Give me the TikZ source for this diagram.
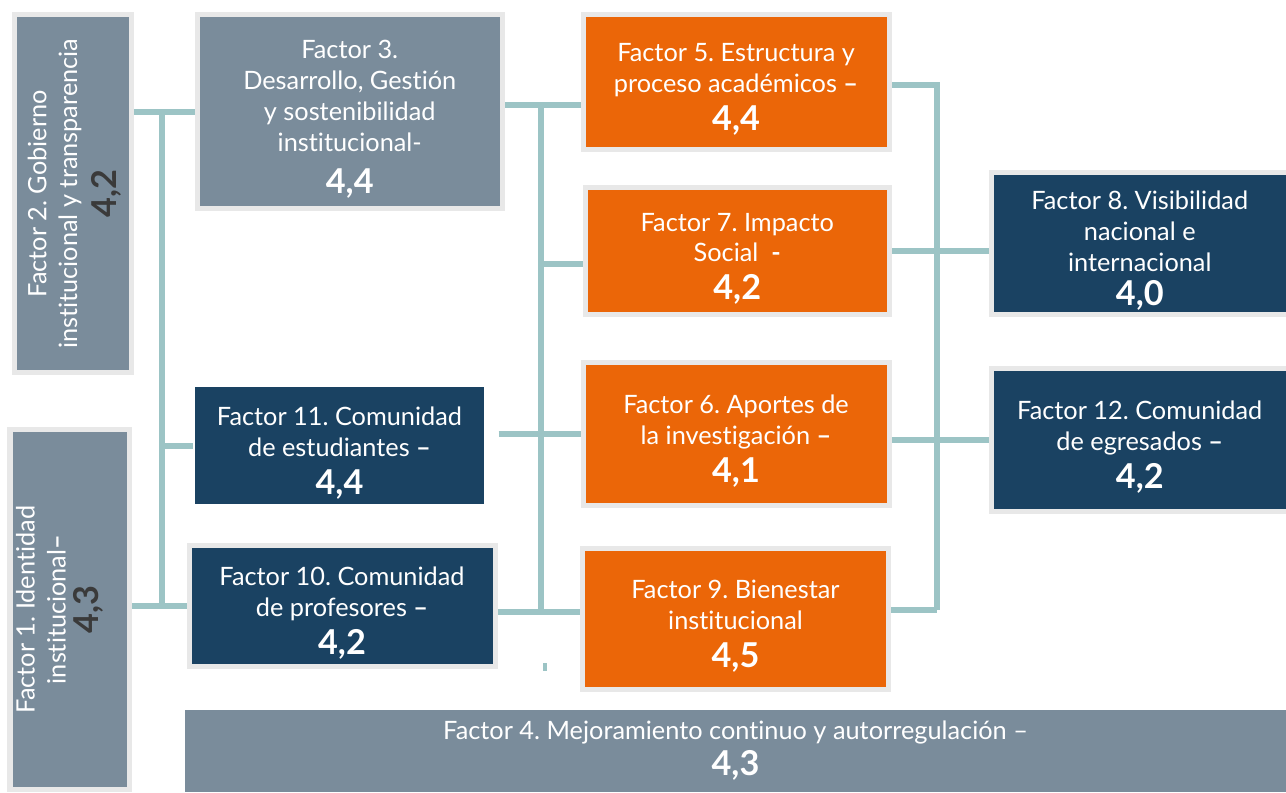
\documentclass[tikz,border=0pt]{standalone}
\usepackage{fontspec}
\setmainfont{Lato}[Ligatures=NoCommon]
\usepackage{tikz}
\usetikzlibrary{calc,positioning}

\definecolor{factgray}{RGB}{122,140,155}
\definecolor{factorange}{RGB}{235,102,8}
\definecolor{factblue}{RGB}{26,66,98}
\definecolor{linkteal}{RGB}{156,196,197}
\definecolor{numdark}{RGB}{58,58,58}

\newcommand\txtf{\fontsize{14.4}{17.6}\selectfont\frenchspacing}
\newcommand\numf{\fontsize{19.5}{22}\selectfont\bfseries}
\newcommand\topstrut{\rule{0pt}{19pt}}

\pgfdeclarelayer{background}
\pgfsetlayers{background,main}

\tikzset{
  box/.style={draw=black!9, line width=0.1cm, text=white, align=center, inner sep=0pt, font=\txtf},
  graybox/.style={box, fill=factgray},
  orangebox/.style={box, fill=factorange},
  bluebox/.style={box, fill=factblue},
  sidetext/.style={rotate=90, align=center, text=white, font=\txtf},
  link/.style={draw=linkteal, line width=0.12cm}
}

\begin{document}
\begin{tikzpicture}
\useasboundingbox (0,0) rectangle (25.72,15.84);

% left column
\node[graybox, minimum width=2.33cm, minimum height=7.17cm] (F2) at (1.455,11.965) {};
\node[sidetext] (F2txt) at ([xshift=0.04cm]F2.center)
  {Factor 2. Gobierno\\ institucional y transparencia\\[5pt] {\numf\color{numdark}4,2}};
\node[graybox, minimum width=2.38cm, minimum height=7.2cm] (F1) at (1.39,3.65) {};
\node[sidetext] (F1txt) at ([xshift=-0.2cm]F1.center)
  {Factor 1. Identidad\\ institucional{\bfseries –}\\[1pt] {\numf\color{numdark}4,3}};

% second column
\node[graybox, minimum width=6.11cm, minimum height=3.89cm] (F3) at (6.995,13.605)
  {\topstrut Factor 3.\\ Desarrollo, Gestión\\ y sostenibilidad\\ institucional-\\[6pt] {\numf 4,4}};
\node[bluebox, draw=none, minimum width=5.78cm, minimum height=2.34cm] (F11) at (6.79,6.93)
  {\topstrut Factor 11. Comunidad\\ de estudiantes {\bfseries –}\\[4pt] {\numf 4,4}};
\node[bluebox, minimum width=6.12cm, minimum height=2.43cm] (F10) at (6.84,3.725)
  {\topstrut Factor 10. Comunidad\\ de profesores {\bfseries –}\\[4pt] {\numf 4,2}};

% third column
\node[orangebox, minimum width=6.12cm, minimum height=2.7cm] (F5) at (14.72,14.2)
  {\topstrut Factor 5. Estructura y\\ proceso académicos {\bfseries –}\\[4pt] {\numf 4,4}};
\node[orangebox, minimum width=6.07cm, minimum height=2.55cm] (F7) at (14.745,10.815)
  {\topstrut Factor 7. Impacto\\ Social~ {\bfseries -}\\[4pt] {\numf 4,2}};
\node[orangebox, minimum width=6.12cm, minimum height=2.86cm] (F6) at (14.72,7.16)
  {\topstrut Factor 6. Aportes de\\ la investigación {\bfseries –}\\[4pt] {\numf 4,1}};
\node[orangebox, minimum width=6.12cm, minimum height=2.82cm] (F9) at (14.71,3.47)
  {\topstrut Factor 9. Bienestar\\ institucional\\[4pt] {\numf 4,5}};

% right column
\node[bluebox, minimum width=5.93cm, minimum height=2.84cm] (F8) at (22.795,10.97)
  {\topstrut Factor 8. Visibilidad\\ nacional e\\ internacional\\[2pt] {\numf 4,0}};
\node[bluebox, minimum width=5.93cm, minimum height=2.85cm] (F12) at (22.795,7.045)
  {\topstrut Factor 12. Comunidad\\ de egresados {\bfseries –}\\[4pt] {\numf 4,2}};

% bottom bar
\node[graybox, draw=none, minimum width=22.02cm, minimum height=1.64cm] (F4) at (14.71,0.82)
  {Factor 4. Mejoramiento continuo y autorregulación –\\[3pt] {\numf 4,3}};

% junction points
\coordinate (jleft) at (3.24,13.605);
\coordinate (jmid) at (10.82,13.74);
\coordinate (jsoc) at (10.82,10.56);
\coordinate (jmidlow) at (10.82,3.6);
\coordinate (jright) at (18.74,14.14);
\coordinate (jrightlow) at (18.74,3.64);

\begin{pgfonlayer}{background}
% left trunk
\draw[link] (F2.east |- jleft) -- (F3.west |- jleft);
\draw[link] (jleft) -- (jleft |- F10.west);
\draw[link] (jleft |- F11.west) -- (F11.west);
\draw[link] (F1.east |- F10.west) -- (F10.west);
% middle trunk
\draw[link] (F3.east |- jmid) -- (F5.west |- jmid);
\draw[link] (jmid) -- (jmidlow);
\draw[link] (jsoc) -- (F7.west |- jsoc);
\draw[link, shorten <=0.24cm] (F11.east |- F6.west) -- (F6.west);
\draw[link] (F10.east |- jmidlow) -- (F9.west |- jmidlow);
% right trunk
\draw[link] (F5.east |- jright) -- (jright) -- (jrightlow);
\draw[link] (F7.east) -- (F8.west |- F7.east);
\draw[link] (F6.east |- F12.west) -- (F12.west);
\draw[link] (F9.east |- jrightlow) -- (jrightlow);
\end{pgfonlayer}
\fill[linkteal] (10.86,2.42) rectangle (10.94,2.58);
\end{tikzpicture}
\end{document}
